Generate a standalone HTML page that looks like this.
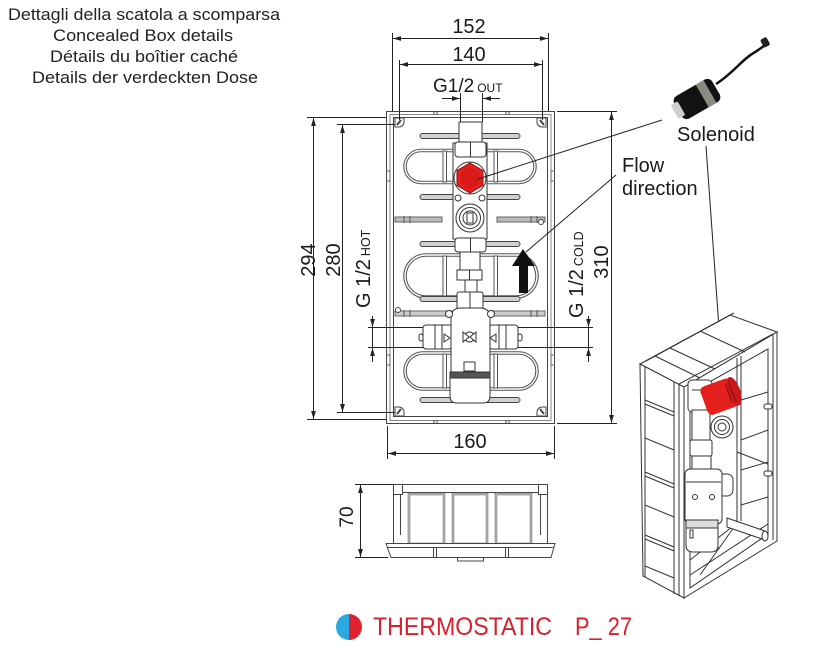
<!DOCTYPE html>
<html><head><meta charset="utf-8">
<style>
html,body{margin:0;padding:0;background:#fff;width:823px;height:651px;overflow:hidden}
svg{display:block}
</style></head>
<body>
<svg width="823" height="651" viewBox="0 0 823 651" xmlns="http://www.w3.org/2000/svg" font-family="'Liberation Sans', Arial, sans-serif">
<defs>
<marker id="a" viewBox="0 0 10 6" refX="10" refY="3" markerWidth="8" markerHeight="5" markerUnits="userSpaceOnUse" orient="auto-start-reverse"><path d="M0,0 L10,3 L0,6z" fill="#222"/></marker>
</defs>

<!-- Header -->
<g fill="#222" font-size="16.5" text-anchor="middle">
<text x="144" y="20" textLength="272" lengthAdjust="spacingAndGlyphs">Dettagli della scatola a scomparsa</text>
<text x="143" y="41" textLength="180" lengthAdjust="spacingAndGlyphs">Concealed Box details</text>
<text x="144" y="62" textLength="188" lengthAdjust="spacingAndGlyphs">Détails du boîtier caché</text>
<text x="145" y="83" textLength="226" lengthAdjust="spacingAndGlyphs">Details der verdeckten Dose</text>
</g>

<!-- ============ FRONT VIEW BOX ============ -->
<g fill="none" stroke="#444" stroke-width="1">
<rect x="386.5" y="111.5" width="168" height="312" fill="#fff"/>
<rect x="390" y="114.5" width="161" height="306" stroke="#888"/>
<rect x="393.5" y="117.5" width="154" height="299"/>
<!-- rim ticks -->
<path d="M434,111v4M437,111v4M506,111v4M509,111v4M434,420v4M437,420v4M506,420v4M509,420v4"/>
<path d="M386,171h4v10h-4M386,355h4v10h-4M555,171h-4v10h4M555,355h-4v10h4" stroke="#666"/>
</g>
<!-- corner tabs -->
<g fill="#fff" stroke="#444" stroke-width="1">
<path d="M395,118h9v4a5,5 0 0 1 -5,5h-4z"/><line x1="397" y1="125" x2="401" y2="120" stroke-width="2"/>
<path d="M546,118h-9v4a5,5 0 0 0 5,5h4z"/><line x1="544" y1="125" x2="540" y2="120" stroke-width="2"/>
<path d="M395,416h9v-4a5,5 0 0 0 -5,-5h-4z"/><line x1="397" y1="414" x2="401" y2="409" stroke-width="2"/>
<path d="M546,416h-9v-4a5,5 0 0 1 5,-5h4z"/><line x1="544" y1="414" x2="540" y2="409" stroke-width="2"/>
</g>

<!-- stadium loops (double line) -->
<g fill="none">
<rect x="405" y="150.5" width="130" height="32" rx="16" stroke="#555" stroke-width="3.5"/>
<rect x="405" y="150.5" width="130" height="32" rx="16" stroke="#fff" stroke-width="1.4"/>
<rect x="405" y="255" width="132" height="42" rx="21" stroke="#555" stroke-width="3.5"/>
<rect x="405" y="255" width="132" height="42" rx="21" stroke="#fff" stroke-width="1.4"/>
<rect x="405" y="353" width="132" height="36" rx="18" stroke="#555" stroke-width="3.5"/>
<rect x="405" y="353" width="132" height="36" rx="18" stroke="#fff" stroke-width="1.4"/>
</g>
<g fill="#fff" stroke="#555" stroke-width="1">
<rect x="443" y="151" width="3.5" height="31"/><rect x="494" y="151" width="3.5" height="31"/>
<rect x="443" y="256" width="3.5" height="40"/><rect x="494" y="256" width="3.5" height="40"/>
<rect x="443" y="354" width="3.5" height="34"/><rect x="494" y="354" width="3.5" height="34"/>
</g>

<!-- slots -->
<g fill="#d0d0d0" stroke="#444" stroke-width="1">
<rect x="420" y="133.5" width="100" height="5" rx="2.5"/>
<rect x="420" y="194.5" width="100" height="5" rx="2.5"/>
<rect x="420" y="241.5" width="100" height="5" rx="2.5"/>
<rect x="420" y="296.5" width="100" height="5" rx="2.5"/>
<rect x="420" y="397.5" width="100" height="5" rx="2.5"/>
<rect x="395" y="217" width="47" height="5" fill="#bbb" stroke="#666"/>
<rect x="497" y="217" width="48" height="5" fill="#bbb" stroke="#666"/>
<rect x="395" y="311" width="150" height="5" fill="#ccc" stroke="#666"/>
</g>
<g stroke="#555" stroke-width="1"><path d="M404,216v7M410,216v7M531,216v7M537,216v7M404,310v7M410,310v7M531,310v7M537,310v7"/></g>
<circle cx="398" cy="310" r="2.5" fill="#fff" stroke="#444"/>
<circle cx="541" cy="222" r="2.5" fill="#fff" stroke="#444"/>

<!-- valve assembly -->
<g fill="#fff" stroke="#333" stroke-width="1">
<rect x="453" y="143" width="34" height="96"/>
<rect x="459" y="122" width="23" height="20"/>
<rect x="455" y="142" width="31" height="15" rx="3"/>
<line x1="470.5" y1="142" x2="470.5" y2="157"/>
<circle cx="470" cy="178" r="16"/>
<polygon points="470,163 483,170.5 483,185.5 470,193 457,185.5 457,170.5" fill="#e3201b" stroke="#8a1010"/>
<polygon points="470,167 479,172.5 479,183.5 470,189 461,183.5 461,172.5" fill="#d81b18" stroke="none"/>
<circle cx="458" cy="198" r="3"/><circle cx="482" cy="198" r="3"/>
<circle cx="470" cy="218" r="14"/>
<circle cx="470" cy="218" r="10.5"/>
<circle cx="470" cy="218" r="7"/>
<rect x="467" y="213" width="6" height="10"/>
<rect x="455" y="238" width="31" height="14" rx="3"/>
<line x1="470.5" y1="238" x2="470.5" y2="252"/>
<rect x="460" y="252" width="20" height="18"/>
<rect x="457" y="270" width="25" height="10"/>
<line x1="469.5" y1="270" x2="469.5" y2="280"/>
<rect x="465" y="280" width="12" height="12"/>
<rect x="457" y="292" width="26" height="17" rx="2"/>
<line x1="470" y1="292" x2="470" y2="309"/>
<!-- side outlets -->
<rect x="423" y="325" width="29" height="24" rx="3"/>
<line x1="435" y1="325" x2="435" y2="349"/><line x1="442" y1="325" x2="442" y2="349"/>
<rect x="489" y="325" width="29" height="24" rx="3"/>
<line x1="506" y1="325" x2="506" y2="349"/><line x1="499" y1="325" x2="499" y2="349"/>
<rect x="419" y="334" width="4" height="7" rx="2"/>
<rect x="518" y="334" width="4" height="7" rx="2"/>
<!-- body -->
<path d="M451,318 Q451,308 461,308 H480 Q490,308 490,318 V372 H451 Z"/>
<circle cx="449" cy="314" r="3.5"/><circle cx="491" cy="314" r="3.5"/>
<path d="M450,372 H490 V396 Q490,403 483,403 H457 Q450,403 450,396 Z"/>
<rect x="450" y="372" width="40" height="6" fill="#555"/>
<rect x="464" y="362" width="11" height="9"/>
<circle cx="469.5" cy="337" r="5"/>
<path d="M463,332 l6,5 l-6,5z M476,332 l-6,5 l6,5z" fill="#fff"/>
<path d="M444,334 l6,4 l-6,4z M496,334 l-6,4 l6,4z" fill="#fff"/>
</g>

<!-- Flow arrow -->
<polygon points="523,249 535,266 528,266 528,293 519,293 519,266 512,266" fill="#111"/>

<!-- leader lines -->
<g stroke="#222" stroke-width="1" fill="none">
<line x1="478" y1="179" x2="662" y2="120"/>
<line x1="526" y1="252" x2="616" y2="175"/>
<line x1="706" y1="146" x2="723" y2="384"/>
</g>

<!-- dimensions -->
<g stroke="#222" stroke-width="1" fill="none">
<line x1="392.5" y1="33" x2="392.5" y2="111"/>
<line x1="548.5" y1="33" x2="548.5" y2="111"/>
<line x1="393" y1="38.5" x2="548" y2="38.5" marker-start="url(#a)" marker-end="url(#a)"/>
<line x1="399.5" y1="60" x2="399.5" y2="120"/>
<line x1="542.5" y1="60" x2="542.5" y2="120"/>
<line x1="400" y1="64.5" x2="542" y2="64.5" marker-start="url(#a)" marker-end="url(#a)"/>
<line x1="460.5" y1="93" x2="460.5" y2="122"/>
<line x1="482.5" y1="93" x2="482.5" y2="122"/>
<line x1="442" y1="98.5" x2="460" y2="98.5" marker-end="url(#a)"/>
<line x1="500" y1="98.5" x2="483" y2="98.5" marker-end="url(#a)"/>

<line x1="307" y1="117.5" x2="386" y2="117.5"/>
<line x1="307" y1="419.5" x2="386" y2="419.5"/>
<line x1="313.5" y1="118" x2="313.5" y2="419" marker-start="url(#a)" marker-end="url(#a)"/>
<line x1="337" y1="124.5" x2="395" y2="124.5"/>
<line x1="337" y1="412.5" x2="395" y2="412.5"/>
<line x1="342.5" y1="125" x2="342.5" y2="412" marker-start="url(#a)" marker-end="url(#a)"/>
<line x1="557" y1="111.5" x2="617" y2="111.5"/>
<line x1="557" y1="423.5" x2="617" y2="423.5"/>
<line x1="611.5" y1="112" x2="611.5" y2="423" marker-start="url(#a)" marker-end="url(#a)"/>
<line x1="387.5" y1="426" x2="387.5" y2="459"/>
<line x1="554.5" y1="426" x2="554.5" y2="459"/>
<line x1="388" y1="453.5" x2="554" y2="453.5" marker-start="url(#a)" marker-end="url(#a)"/>

<line x1="368" y1="327.5" x2="423" y2="327.5"/>
<line x1="368" y1="347.5" x2="423" y2="347.5"/>
<line x1="518" y1="327.5" x2="593" y2="327.5"/>
<line x1="518" y1="347.5" x2="593" y2="347.5"/>
<line x1="372.5" y1="316" x2="372.5" y2="327" marker-end="url(#a)"/>
<line x1="372.5" y1="362" x2="372.5" y2="348" marker-end="url(#a)"/>
<line x1="372.5" y1="327" x2="372.5" y2="348"/>
<line x1="588.5" y1="316" x2="588.5" y2="327" marker-end="url(#a)"/>
<line x1="588.5" y1="362" x2="588.5" y2="348" marker-end="url(#a)"/>
<line x1="588.5" y1="327" x2="588.5" y2="348"/>

<line x1="355" y1="484.5" x2="393" y2="484.5"/>
<line x1="355" y1="557.5" x2="388" y2="557.5"/>
<line x1="360.5" y1="485" x2="360.5" y2="557" marker-start="url(#a)" marker-end="url(#a)"/>
</g>

<g fill="#1a1a1a" font-size="20" text-anchor="middle">
<text x="469" y="33">152</text>
<text x="469" y="61">140</text>
<text x="470" y="448">160</text>
<text transform="translate(315,260) rotate(-90)">294</text>
<text transform="translate(340,260) rotate(-90)">280</text>
<text transform="translate(608,262) rotate(-90)">310</text>
<text transform="translate(353,517) rotate(-90)" font-size="19">70</text>
</g>
<g fill="#1a1a1a" font-size="20">
<text x="433" y="92" font-size="19">G1/2<tspan font-size="12" dx="3">OUT</tspan></text>
<text transform="translate(370,308) rotate(-90)">G 1/2<tspan font-size="12.5" dx="3">HOT</tspan></text>
<text transform="translate(583,318) rotate(-90)">G 1/2<tspan font-size="12.5" dx="3">COLD</tspan></text>
<text x="677" y="141">Solenoid</text>
<text x="622" y="172">Flow</text>
<text x="622" y="195">direction</text>
</g>

<!-- Solenoid photo -->
<path d="M716,84 C732,74 742,60 752,54 C758,50 762,48 766,44" fill="none" stroke="#111" stroke-width="2.5"/>
<rect x="762" y="38" width="7" height="9" rx="2" fill="#222" transform="rotate(-30 765 43)"/>
<g transform="rotate(-30 697 99)">
<rect x="675" y="86" width="44" height="26" rx="6" fill="#121212"/>
<rect x="703" y="86" width="9" height="26" fill="#8a8a80"/>
<rect x="671" y="91" width="8" height="16" rx="2" fill="#cfcfcf"/>
</g>

<!-- ============ SIDE VIEW ============ -->
<g fill="#fff" stroke="#444" stroke-width="1">
<rect x="393.5" y="484.5" width="154" height="60"/>
<line x1="402" y1="492.5" x2="539" y2="492.5"/>
<rect x="393.5" y="484.5" width="9" height="10"/>
<rect x="538.5" y="484.5" width="9" height="10"/>
<line x1="400.5" y1="494" x2="400.5" y2="535"/>
<line x1="540.5" y1="494" x2="540.5" y2="535"/>
</g>
<g fill="none" stroke="#666" stroke-width="2.5">
<rect x="409" y="494" width="35" height="50"/>
<rect x="453" y="494" width="34" height="50"/>
<rect x="496" y="494" width="35" height="50"/>
</g>
<g fill="none" stroke="#fff" stroke-width="0.8">
<rect x="409" y="494" width="35" height="50"/>
<rect x="453" y="494" width="34" height="50"/>
<rect x="496" y="494" width="35" height="50"/>
</g>
<g fill="#fff" stroke="#444" stroke-width="1">
<path d="M386,543.5 H555 L551,557.5 H391 Z"/>
<line x1="388" y1="547.5" x2="553" y2="547.5"/>
<line x1="433.5" y1="547" x2="433.5" y2="557"/>
<line x1="436.5" y1="547" x2="436.5" y2="557"/>
<line x1="505.5" y1="547" x2="505.5" y2="557"/>
<line x1="508.5" y1="547" x2="508.5" y2="557"/>
<rect x="457.5" y="557.5" width="26" height="3.5"/>
</g>

<!-- ============ 3D VIEW ============ -->
<g fill="#fff" stroke="#333" stroke-width="1">
<polygon points="640,364 730,315 777,332 684,387"/>
<polygon points="640,364 684,387 684,598 643,576"/>
<polygon points="684,387 777,332 777,541 684,598"/>
<polygon points="690,393 768,349 768,534 690,588"/>
</g>
<g fill="none" stroke="#333" stroke-width="1">
<line x1="645" y1="367" x2="645" y2="577"/>
<line x1="674" y1="382" x2="674" y2="594"/>
<line x1="679" y1="384" x2="679" y2="596"/>
<line x1="773" y1="334" x2="773" y2="540"/>
<line x1="646" y1="361" x2="734" y2="313"/>
<line x1="679" y1="384" x2="773" y2="334"/>
<!-- top wall ribs -->
<line x1="670" y1="348" x2="715" y2="369"/>
<line x1="700" y1="331" x2="745" y2="352"/>
<line x1="655" y1="356" x2="700" y2="378"/>
<!-- left wall ribs -->
<line x1="645" y1="400" x2="674" y2="412"/>
<line x1="645" y1="404" x2="674" y2="416"/>
<line x1="645" y1="438" x2="674" y2="450"/>
<line x1="645" y1="472" x2="674" y2="484"/>
<line x1="645" y1="476" x2="674" y2="488"/>
<line x1="645" y1="505" x2="674" y2="517"/>
<line x1="645" y1="535" x2="674" y2="547"/>
<line x1="645" y1="539" x2="674" y2="551"/>
<line x1="645" y1="566" x2="674" y2="578"/>
<!-- interior back wall -->
<line x1="737" y1="358" x2="737" y2="523"/>
<line x1="741" y1="356" x2="741" y2="521"/>
<line x1="741" y1="400" x2="768" y2="392"/>
<line x1="741" y1="440" x2="768" y2="430"/>
<line x1="737" y1="452" x2="768" y2="464"/>
<line x1="741" y1="470" x2="768" y2="462"/>
<line x1="741" y1="505" x2="768" y2="497"/>
<line x1="690" y1="575" x2="768" y2="524"/>
<line x1="700" y1="575" x2="737" y2="523"/>
<line x1="690" y1="560" x2="737" y2="523"/>
<line x1="737" y1="523" x2="768" y2="534"/>
<line x1="690" y1="548" x2="720" y2="548"/>
</g>
<!-- interior shelf -->
<path d="M727,518 L765,531 L765,540 L727,527 Z" fill="#fff" stroke="#333"/>
<ellipse cx="765" cy="536" rx="3" ry="5" fill="#fff" stroke="#333"/>
<g fill="#fff" stroke="#333">
<rect x="764" y="404" width="8" height="5" rx="2"/>
<rect x="764" y="471" width="8" height="5" rx="2"/>
</g>
<!-- valve in 3D -->
<g fill="#fff" stroke="#333" stroke-width="1">
<rect x="688" y="380" width="24" height="32" rx="4"/>
<line x1="692" y1="390" x2="708" y2="390"/>
<rect x="692" y="410" width="18" height="30"/>
<circle cx="722" cy="427" r="11"/>
<circle cx="722" cy="427" r="7.5"/>
<circle cx="722" cy="427" r="4"/>
<rect x="690" y="440" width="22" height="16" rx="2"/>
<rect x="692" y="456" width="19" height="13"/>
<rect x="718" y="474" width="15" height="22" rx="6"/>
<rect x="685" y="469" width="37" height="55" rx="5"/>
<line x1="686" y1="482" x2="721" y2="482"/>
<circle cx="695" cy="497" r="2.5"/>
<circle cx="712" cy="497" r="2.5"/>
<rect x="686" y="520" width="32" height="8" fill="#ddd"/>
<path d="M686,528 H718 V545 Q718,552 711,552 H693 Q686,552 686,545 Z"/>
<rect x="690" y="530" width="3" height="8"/>
</g>
<!-- red solenoid in 3D -->
<g transform="rotate(-20 721 396)">
<rect x="703" y="381" width="32" height="30" rx="5" fill="#e3201b"/>
<ellipse cx="735" cy="396" rx="6" ry="15" fill="#c9181a"/>
<path d="M729,386 v20 M733,384 v22" stroke="#8a0f10" stroke-width="1"/>
</g>

<!-- ============ FOOTER ============ -->
<path d="M349,614 A13,13 0 0 0 349,640 Z" fill="#2aa8e0"/>
<path d="M349,614 A13,13 0 0 1 349,640 Z" fill="#e0222e"/>
<g fill="#d8202c" font-size="25">
<text x="373" y="635" textLength="179" lengthAdjust="spacingAndGlyphs">THERMOSTATIC</text>
<text x="575" y="635" textLength="57" lengthAdjust="spacingAndGlyphs">P_ 27</text>
</g>
</svg>
</body></html>
